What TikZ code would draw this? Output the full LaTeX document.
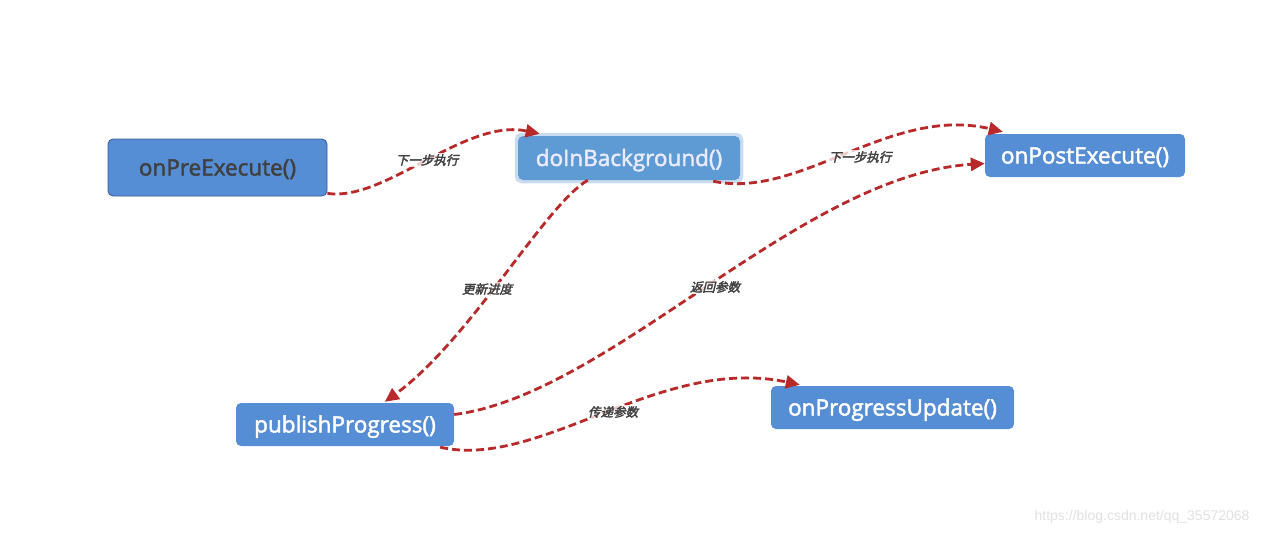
\documentclass[tikz,border=0pt]{standalone}
\usepackage{fontspec}
\setmainfont{Open Sans}
\newfontfamily\boxfont[FakeBold=2]{Open Sans}
\newfontfamily\cjk[FakeSlant=0.25,FakeBold=2.5]{Noto Sans CJK SC}
\usetikzlibrary{arrows.meta}
\definecolor{boxblue}{HTML}{558ED5}
\definecolor{bgblue}{HTML}{5E9BD4}
\definecolor{bgrim}{HTML}{C9DCEF}
\definecolor{preborder}{HTML}{3B5A8C}
\definecolor{edgered}{HTML}{B8292A}
\definecolor{lbl}{HTML}{404040}
\tikzset{
  box/.style={rectangle, rounded corners=5pt, fill=boxblue, text=white, font=\boxfont\fontsize{22.5}{26}\selectfont, inner sep=0pt, text height=16pt, text depth=0pt},
  flow/.style={draw=edgered, line width=2.8pt, dash pattern=on 8pt off 4pt, -{Triangle[length=14pt,width=13pt]}},
  elabel/.style={font=\cjk\fontsize{12.5}{14}\selectfont, text=lbl, fill=white, fill opacity=0.75, text opacity=1, inner sep=1pt}
}
\begin{document}
\begin{tikzpicture}[x=1pt,y=-1pt]
\useasboundingbox (0,0) rectangle (1261,535);
% nodes
\node[box, draw=preborder, line width=0.8pt, text=lbl, minimum width=219pt, minimum height=57pt] (pre) at (217.5,167.5) {onPreExecute()};
\node[rectangle, rounded corners=5pt, fill=none, draw=bgrim, line width=3.5pt, minimum width=225pt, minimum height=47pt] (bgo) at (629,158) {};
\node[box, fill=bgblue, text=white!92!blue, minimum width=222pt, minimum height=44pt] (bg) at (629,158) {doInBackground()};
\node[box, minimum width=200pt, minimum height=43pt] (post) at (1085,155.5) {onPostExecute()};
\node[box, minimum width=218pt, minimum height=43pt] (pub) at (345,424.5) {publishProgress()};
\node[box, minimum width=243pt, minimum height=43pt] (upd) at (892.5,407.5) {onProgressUpdate()};
% anchor coordinates
\coordinate (e1s) at ([yshift=3pt]pre.south east);
\coordinate (e1e) at ([xshift=25pt,yshift=-1pt]bgo.north west);
\coordinate (e2s) at ([xshift=-27pt,yshift=-1pt]bg.south east);
\coordinate (e2e) at ([xshift=18pt,yshift=2pt]post.north west);
\coordinate (e3s) at ([xshift=70pt]bg.south west);
\coordinate (e3e) at ([xshift=149pt,yshift=1pt]pub.north west);
\coordinate (e4s) at ([yshift=10pt]pub.east);
\coordinate (e4e) at ([yshift=-8pt]post.west);
\coordinate (e5s) at ([xshift=-14pt,yshift=-1pt]pub.south east);
\coordinate (e5e) at ([xshift=29pt,yshift=1pt]upd.north west);
% edges
\draw[flow] (e1s) .. controls (385,202) and (465,118) .. (e1e);
\draw[flow] (e2s) .. controls (800,200) and (890,105) .. (e2e);
\draw[flow] (e3s) .. controls (545,205) and (470,340) .. (e3e);
\draw[flow] (e4s) .. controls (610,395) and (800,175) .. (e4e);
\draw[flow] (e5s) .. controls (540,470) and (660,355) .. (e5e);
% labels
\node[elabel] (l1) at (427,160) {下一步执行};
\node[elabel] (l2) at (860,157) {下一步执行};
\node[elabel] (l3) at (487,289) {更新进度};
\node[elabel] (l4) at (715,287) {返回参数};
\node[elabel] (l5) at (613,412) {传递参数};
% watermark
\node[font=\fontspec{Liberation Sans}\fontsize{14}{16}\selectfont, text=black!12, anchor=east] (wm) at (1253,517) {https://blog.csdn.net/qq\_35572068};
\end{tikzpicture}
\end{document}
